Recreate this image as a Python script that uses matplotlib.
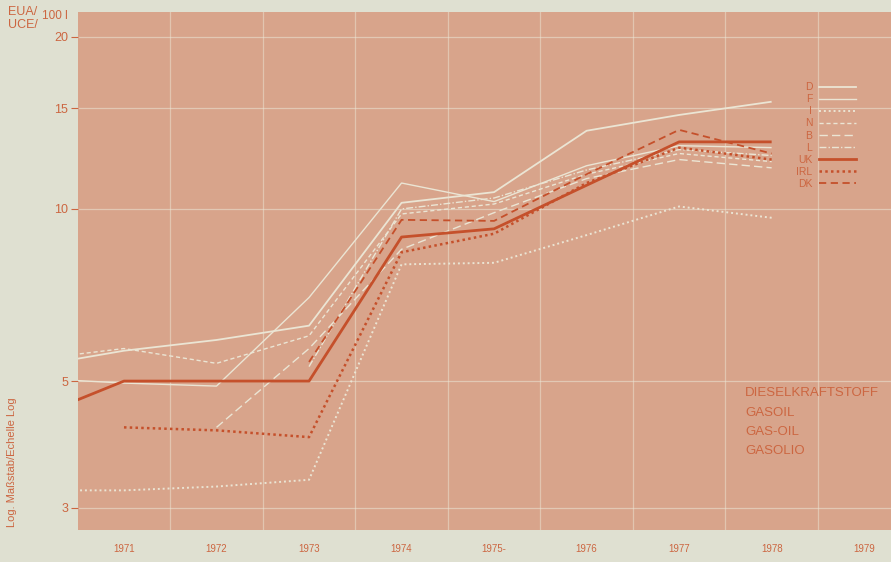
import numpy as np
import matplotlib
matplotlib.use("Agg")
import matplotlib.pyplot as plt
from matplotlib.lines import Line2D

plt.rcParams['font.family'] = ['Liberation Sans', 'DejaVu Sans']

years = [1970, 1971, 1972, 1973, 1974, 1975, 1976, 1977, 1978]
year_labels = ["1971", "1972", "1973", "1974", "1975-", "1976", "1977", "1978", "1979"]
year_ticks = [1971, 1972, 1973, 1974, 1975, 1976, 1977, 1978, 1979]

nan = np.nan
D   = [5.3, 5.65, 5.9, 6.25, 10.25, 10.7, 13.7, 14.6, 15.4]
F   = [5.06, 4.96, 4.9, 7.0, 11.1, 10.3, 11.9, 12.9, 12.8]
I   = [3.22, 3.22, 3.27, 3.36, 8.0, 8.05, 9.0, 10.1, 9.65]
N   = [5.45, 5.7, 5.37, 6.0, 9.8, 10.2, 11.5, 12.5, 12.1]
B   = [nan, nan, 4.15, 5.7, 8.5, 9.85, 11.3, 12.2, 11.8]
L   = [nan, nan, nan, 5.3, 10.0, 10.45, 11.7, 12.7, 12.4]
UK  = [4.3, 5.0, 5.0, 5.0, 8.93, 9.23, 11.0, 13.1, 13.1]
IRL = [nan, 4.15, 4.1, 3.99, 8.4, 9.05, 11.1, 12.8, 12.2]
DK  = [nan, nan, nan, 5.4, 9.57, 9.53, 11.5, 13.75, 12.5]

y_ticks = [3, 5, 10, 15, 20]
fuel_names = ["DIESELKRAFTSTOFF", "GASOIL", "GAS-OIL", "GASOLIO"]

BG = "#dfe0d1"
PINK = "#d8a48b"
WHITE = "#ebe5d4"
RED = "#c5502b"
TXT = "#cc6641"

W, H = 891, 562
fig = plt.figure(figsize=(W / 100, H / 100), dpi=100, facecolor=BG)
left, right, top, bottom = 78, 891, 12, 530
ax = fig.add_axes([left / W, 1 - bottom / H, (right - left) / W, (bottom - top) / H])
ax.set_facecolor(PINK)
for s in ax.spines.values():
    s.set_visible(False)

ax.set_yscale("log")
ax.set_ylim(2.745, 22.1)
ax.set_xlim(1970.503, 1979.29)

ax.set_yticks(y_ticks)
ax.set_yticklabels([str(v) for v in y_ticks])
ax.yaxis.set_minor_locator(matplotlib.ticker.NullLocator())
ax.set_xticks(year_ticks)
ax.set_xticklabels(year_labels)
ax.set_xticks([y + 0.5 for y in year_ticks[:-1]], minor=True)
ax.grid(axis="y", which="major", color="#ece6d6", lw=0.9, alpha=0.55)
ax.grid(axis="x", which="minor", color="#ece6d6", lw=0.9, alpha=0.5)
ax.tick_params(axis="y", which="major", direction="out", length=5, width=0.8,
               color=TXT, labelcolor=TXT, labelsize=9, pad=2)
ax.tick_params(axis="x", which="both", length=0, labelcolor=TXT, labelsize=7, pad=10)

white_series = [("D", D, "-", 1.3), ("F", F, "-", 1.0), ("I", I, (0, (1, 1.5)), 1.4),
                ("N", N, (0, (3, 2)), 1.0), ("B", B, (0, (6, 3)), 1.0), ("L", L, (0, (5, 1.5, 1, 1.5)), 1.0)]
handles = []
for name, vals, ls, lw in white_series:
    ax.plot(years, vals, color=WHITE, ls=ls, lw=lw, solid_capstyle="butt")
    handles.append(Line2D([], [], color=WHITE, ls=ls, lw=lw))

red_series = [("UK", UK, "-", 2.0), ("IRL", IRL, (0, (1, 1.3)), 1.8), ("DK", DK, (0, (4, 2.5)), 1.3)]
for name, vals, ls, lw in red_series:
    ax.plot(years, vals, color=RED, ls=ls, lw=lw, solid_capstyle="butt")
    handles.append(Line2D([], [], color=RED, ls=ls, lw=lw))

labels = [s[0] for s in white_series] + [s[0] for s in red_series]
leg = ax.legend(handles, labels, loc="upper left", bbox_to_anchor=(791 / W, 1 - 77 / H),
                bbox_transform=fig.transFigure, frameon=False, markerfirst=False,
                fontsize=7.5, labelcolor=TXT, handlelength=3.6, handletextpad=0.6,
                labelspacing=0.2, borderpad=0)

for i, name in enumerate(fuel_names):
    fig.text(745 / W, 1 - (393 + i * 19.5) / H, name, color=TXT, fontsize=9.5, va="center", ha="left")

fig.text(8 / W, 1 - 12 / H, "EUA/", color=TXT, fontsize=9, va="center", ha="left")
fig.text(8 / W, 1 - 25 / H, "UCE/", color=TXT, fontsize=9, va="center", ha="left")
fig.text(42 / W, 1 - 16 / H, "100 l", color=TXT, fontsize=8.5, va="center", ha="left")
fig.text(12 / W, 1 - 462 / H, "Log. Maßstab/Echelle Log", color=TXT, fontsize=8,
         rotation=90, va="center", ha="center")

fig.savefig("out.png", dpi=100, facecolor=BG)
